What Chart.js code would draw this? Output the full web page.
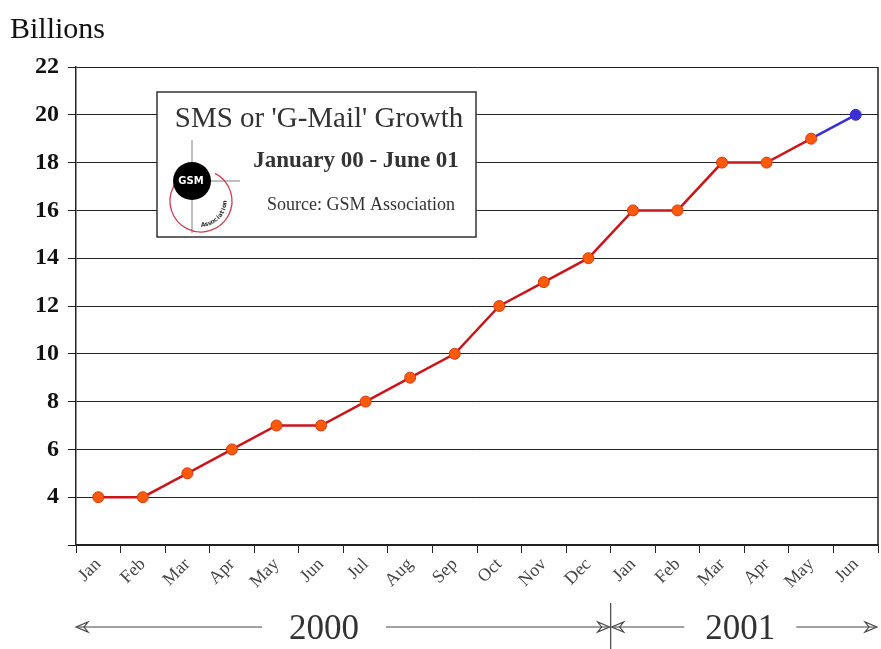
<!DOCTYPE html>
<html>
<head>
<meta charset="utf-8">
<script src="https://cdn.jsdelivr.net/npm/chart.js@4"></script>
<style>
  html, body { margin: 0; padding: 0; background: #fff; overflow: hidden; }
  #wrap { width: 881px; height: 649px; position: relative; }
</style>
</head>
<body>
<div id="wrap"><canvas id="smsChart"></canvas></div>
<script>
const months = ['Jan', 'Feb', 'Mar', 'Apr', 'May', 'Jun', 'Jul', 'Aug', 'Sep', 'Oct', 'Nov', 'Dec',
  'Jan', 'Feb', 'Mar', 'Apr', 'May', 'Jun'];
const smsBillions = [4, 4, 5, 6, 7, 7, 8, 9, 10, 12, 13, 14, 16, 16, 18, 18, 19, 20];
const yearLabels = ['2000', '2001'];
const yTicks = [4, 6, 8, 10, 12, 14, 16, 18, 20, 22];

const SERIF = '"Liberation Serif", "Times New Roman", serif';
const RED = '#c8161c';
const BLUE = '#3a2fd2';
const lastIdx = smsBillions.length - 1;

// open arrow head like the original drawing
function arrowHead(ctx, x, y, dir) {
  ctx.beginPath();
  ctx.moveTo(x, y);
  ctx.lineTo(x - dir * 12, y - 5);
  ctx.lineTo(x - dir * 8, y);
  ctx.lineTo(x - dir * 12, y + 5);
  ctx.closePath();
  ctx.stroke();
}

const decorPlugin = {
  id: 'decor',
  afterDraw(chart) {
    const ctx = chart.ctx;
    const area = chart.chartArea;
    const xs = chart.scales.x;
    ctx.save();

    // right frame line
    ctx.strokeStyle = '#222';
    ctx.lineWidth = 1.5;
    ctx.beginPath();
    ctx.moveTo(area.right, area.top);
    ctx.lineTo(area.right, area.bottom);
    ctx.stroke();

    // axis caption
    ctx.fillStyle = '#111';
    ctx.font = '30px ' + SERIF;
    ctx.textBaseline = 'alphabetic';
    ctx.textAlign = 'left';
    ctx.fillText('Billions', 10, 38);

    // year arrows
    const divX = (xs.getPixelForValue(11) + xs.getPixelForValue(12)) / 2;
    const ay = 627;
    ctx.strokeStyle = '#444';
    ctx.fillStyle = '#333';
    ctx.lineWidth = 1.2;
    ctx.font = '35px ' + SERIF;
    ctx.textAlign = 'center';
    ctx.textBaseline = 'middle';
    const segs = [[area.left - 1, divX, 0.465, 27], [divX, area.right, 0.485, 21]];
    segs.forEach((s, i) => {
      const [a, b, f, gap] = s;
      const cx = a + (b - a) * f;
      const w = ctx.measureText(yearLabels[i]).width;
      ctx.fillText(yearLabels[i], cx, ay + 3);
      ctx.beginPath();
      ctx.moveTo(a + 2, ay);
      ctx.lineTo(cx - w / 2 - gap, ay);
      ctx.moveTo(cx + w / 2 + gap, ay);
      ctx.lineTo(b - 2, ay);
      ctx.stroke();
      arrowHead(ctx, a + 1, ay, -1);
      arrowHead(ctx, b - 1, ay, 1);
    });
    ctx.beginPath();
    ctx.moveTo(divX, 603);
    ctx.lineTo(divX, 649);
    ctx.stroke();

    // inset title box
    const bx = 157, by = 92, bw = 319, bh = 145;
    ctx.fillStyle = '#fff';
    ctx.fillRect(bx, by, bw, bh);
    ctx.strokeStyle = '#333';
    ctx.lineWidth = 1.5;
    ctx.strokeRect(bx, by, bw, bh);

    ctx.fillStyle = '#333';
    ctx.textAlign = 'center';
    ctx.textBaseline = 'alphabetic';
    ctx.font = '29px ' + SERIF;
    ctx.fillText("SMS or 'G-Mail' Growth", 319, 127);
    ctx.font = 'bold 23px ' + SERIF;
    ctx.fillText('January 00 - June 01', 356, 167);
    ctx.font = '18px ' + SERIF;
    ctx.fillText('Source: GSM Association', 361, 210);

    // GSM logo
    const lx = 192, ly = 181;
    ctx.strokeStyle = '#aaa';
    ctx.lineWidth = 1.5;
    ctx.beginPath();
    ctx.moveTo(lx, 140); ctx.lineTo(lx, 233);
    ctx.moveTo(lx, ly); ctx.lineTo(240, ly);
    ctx.stroke();
    ctx.strokeStyle = '#c84050';
    ctx.lineWidth = 1.3;
    ctx.beginPath();
    ctx.arc(201, 201, 31, -0.35 * Math.PI, 1.5 * Math.PI);
    ctx.stroke();
    ctx.fillStyle = '#000';
    ctx.beginPath();
    ctx.arc(lx, ly, 19, 0, Math.PI * 2);
    ctx.fill();
    ctx.fillStyle = '#fff';
    ctx.font = 'bold 10px "DejaVu Sans", sans-serif';
    ctx.textAlign = 'center';
    ctx.textBaseline = 'middle';
    ctx.fillText('GSM', lx - 1, ly);
    ctx.fillStyle = '#333';
    ctx.font = 'bold 6px "DejaVu Sans", sans-serif';
    ctx.textBaseline = 'top';
    const word = 'Association';
    for (let i = 0; i < word.length; i++) {
      const th = 0.97 * Math.PI - i * 0.045 * Math.PI;
      ctx.save();
      ctx.translate(201 + 27 * Math.sin(th), 201 - 27 * Math.cos(th));
      ctx.rotate(th - Math.PI);
      ctx.fillText(word[i], 0, -6);
      ctx.restore();
    }

    ctx.restore();
  }
};

const ctx = document.getElementById('smsChart').getContext('2d');
new Chart(ctx, {
  type: 'line',
  data: {
    labels: months,
    datasets: [{
      data: smsBillions,
      borderColor: RED,
      borderWidth: 2.5,
      tension: 0,
      fill: false,
      pointRadius: 5.5,
      pointBorderWidth: 1,
      pointBackgroundColor: smsBillions.map((_, i) => i === lastIdx ? BLUE : '#ff5a0a'),
      pointBorderColor: smsBillions.map((_, i) => i === lastIdx ? BLUE : '#d23a10'),
      segment: {
        borderColor: c => c.p1DataIndex === lastIdx ? BLUE : RED
      }
    }]
  },
  options: {
    responsive: true,
    maintainAspectRatio: false,
    animation: false,
    layout: { autoPadding: false, padding: { top: 67, right: 3, left: 0, bottom: 0 } },
    plugins: {
      legend: { display: false },
      tooltip: { enabled: false }
    },
    scales: {
      x: {
        offset: true,
        grid: {
          offset: true,
          drawOnChartArea: false,
          drawTicks: true,
          tickLength: 8,
          color: '#222'
        },
        border: { color: '#222', width: 1.5 },
        ticks: {
          maxRotation: 45,
          minRotation: 45,
          autoSkip: false,
          color: '#444',
          padding: 1,
          font: { family: SERIF, size: 18 }
        },
        afterFit: s => { s.height = 104; }
      },
      y: {
        min: 2,
        max: 22,
        afterBuildTicks: s => { s.ticks = [2].concat(yTicks).map(v => ({ value: v })); },
        grid: {
          color: '#222',
          lineWidth: 1,
          tickLength: 8
        },
        border: { color: '#222', width: 1.5 },
        ticks: {
          color: '#111',
          padding: 9,
          font: { family: SERIF, size: 24, weight: 'bold' },
          callback: v => v === 2 ? '' : v
        },
        afterFit: s => { s.width = 76; }
      }
    }
  },
  plugins: [decorPlugin]
});
</script>
</body>
</html>
